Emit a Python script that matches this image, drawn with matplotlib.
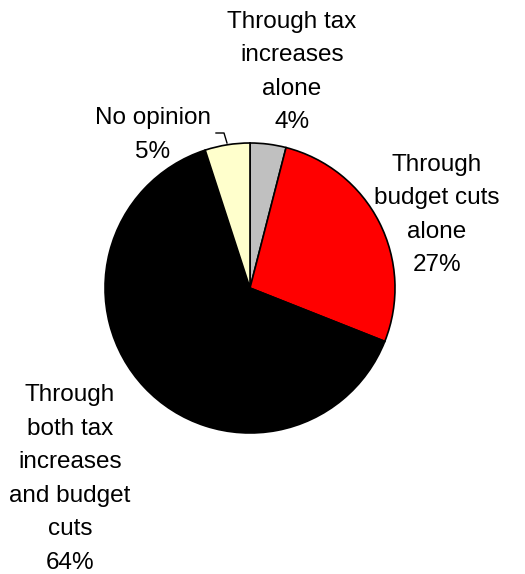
import matplotlib.pyplot as plt

# Data
labels = ["Through tax\nincreases\nalone", "Through\nbudget cuts\nalone",
          "Through\nboth tax\nincreases\nand budget\ncuts", "No opinion"]
shares = [4, 27, 64, 5]
colors = ["#C0C0C0", "#FF0000", "#000000", "#FFFFCC"]

# label centres in pixel coords (x, y from top)
label_pos = [(292, 72), (437, 215), (70, 479), (153, 135)]

W, H = 525, 574
fig = plt.figure(figsize=(W / 100, H / 100), dpi=100)
ax = fig.add_axes([0, 0, 1, 1])

ax.pie(shares, colors=colors, startangle=90, counterclock=False,
       center=(250, H - 288), radius=145, frame=True,
       wedgeprops=dict(edgecolor="black", linewidth=1.2))
ax.set_xlim(0, W)
ax.set_ylim(0, H)
ax.set_aspect("equal")
ax.axis("off")

for lab, val, (x, y) in zip(labels, shares, label_pos):
    ax.text(x, H - y, f"{lab}\n{val}%", ha="center", va="center",
            fontsize=17.5, family="Liberation Sans", linespacing=1.68)

# leader line for "No opinion"
ax.plot([216, 224, 227], [H - 133, H - 133, H - 143], color="black", lw=1)

fig.savefig("out.png", dpi=100, facecolor="white")
